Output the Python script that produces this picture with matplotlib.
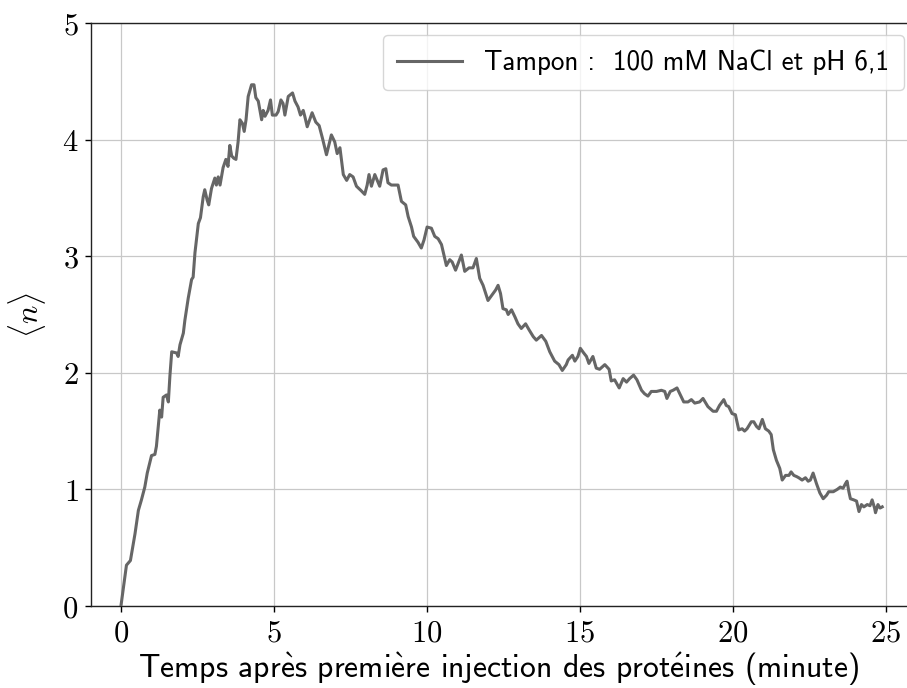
import numpy as np
import matplotlib
matplotlib.use("Agg")
import matplotlib.pyplot as plt

plt.rcParams['mathtext.fontset'] = 'cm'

# temps (minute) et nombre moyen <n>
temps = [0.0, 0.18, 0.31, 0.46, 0.57, 0.67, 0.78, 0.86, 1.0, 1.11, 1.16, 1.27, 1.33, 1.38, 1.49,
         1.55, 1.6, 1.66, 1.82, 1.87, 1.93, 2.04, 2.09, 2.2, 2.31, 2.36, 2.42, 2.53, 2.6, 2.69,
         2.74, 2.82, 2.87, 2.96, 3.07, 3.12, 3.18, 3.24, 3.34, 3.43, 3.5, 3.56, 3.62, 3.69, 3.76,
         3.83, 3.89, 3.97, 4.03, 4.09, 4.16, 4.27, 4.35, 4.41, 4.49, 4.6, 4.65, 4.71, 4.81, 4.89,
         4.95, 5.07, 5.14, 5.23, 5.3, 5.36, 5.47, 5.61, 5.69, 5.79, 5.87, 5.96, 6.01, 6.09, 6.25,
         6.37, 6.48, 6.59, 6.72, 6.88, 6.99, 7.07, 7.16, 7.27, 7.38, 7.48, 7.59, 7.7, 7.86, 7.97,
         8.05, 8.11, 8.19, 8.3, 8.46, 8.57, 8.66, 8.73, 8.84, 8.95, 9.06, 9.17, 9.31, 9.39, 9.5,
         9.57, 9.71, 9.82, 9.91, 10.01, 10.15, 10.26, 10.37, 10.48, 10.64, 10.75, 10.83, 10.94,
         11.13, 11.24, 11.38, 11.51, 11.62, 11.73, 11.84, 12.0, 12.14, 12.25, 12.33, 12.41, 12.49,
         12.6, 12.66, 12.77, 12.88, 12.98, 13.09, 13.23, 13.34, 13.48, 13.58, 13.75, 13.89, 14.02,
         14.18, 14.32, 14.43, 14.56, 14.62, 14.76, 14.84, 14.94, 15.02, 15.13, 15.22, 15.3, 15.43,
         15.54, 15.65, 15.82, 15.96, 16.03, 16.14, 16.29, 16.42, 16.53, 16.63, 16.76, 16.87, 17.02,
         17.12, 17.23, 17.34, 17.51, 17.67, 17.78, 17.85, 17.96, 18.05, 18.18, 18.29, 18.4, 18.54,
         18.65, 18.76, 18.92, 19.03, 19.19, 19.36, 19.47, 19.57, 19.71, 19.79, 19.87, 19.98, 20.09,
         20.2, 20.31, 20.39, 20.47, 20.61, 20.69, 20.78, 20.86, 20.97, 21.07, 21.18, 21.26, 21.33,
         21.43, 21.54, 21.62, 21.73, 21.84, 21.91, 22.0, 22.09, 22.16, 22.27, 22.38, 22.47, 22.54,
         22.63, 22.74, 22.85, 22.96, 23.07, 23.14, 23.29, 23.42, 23.52, 23.61, 23.69, 23.74, 23.8,
         23.85, 23.96, 24.05, 24.13, 24.21, 24.29, 24.4, 24.49, 24.56, 24.64, 24.67, 24.75, 24.82,
         24.89]
n_moyen = [0.0, 0.35, 0.39, 0.62, 0.82, 0.91, 1.02, 1.14, 1.29, 1.3, 1.37, 1.68, 1.62, 1.79, 1.81,
           1.75, 1.97, 2.18, 2.17, 2.14, 2.24, 2.34, 2.45, 2.64, 2.8, 2.82, 3.03, 3.28, 3.33, 3.51,
           3.57, 3.48, 3.44, 3.58, 3.67, 3.61, 3.68, 3.61, 3.76, 3.83, 3.77, 3.95, 3.86, 3.84, 3.83,
           3.98, 4.17, 4.14, 4.07, 4.17, 4.37, 4.47, 4.47, 4.36, 4.33, 4.17, 4.25, 4.2, 4.25, 4.34,
           4.21, 4.21, 4.24, 4.34, 4.31, 4.21, 4.37, 4.4, 4.33, 4.28, 4.21, 4.25, 4.2, 4.11, 4.23,
           4.15, 4.12, 4.01, 3.87, 4.04, 3.98, 3.88, 3.93, 3.7, 3.65, 3.7, 3.68, 3.6, 3.56, 3.53,
           3.61, 3.7, 3.6, 3.7, 3.6, 3.74, 3.75, 3.63, 3.61, 3.61, 3.61, 3.47, 3.44, 3.34, 3.25,
           3.17, 3.12, 3.07, 3.14, 3.25, 3.24, 3.17, 3.15, 3.1, 2.92, 2.97, 2.95, 2.88,
           3.01, 2.87, 2.9, 2.9, 2.98, 2.81, 2.75, 2.62, 2.67, 2.71, 2.75, 2.68, 2.55,
           2.54, 2.5, 2.54, 2.48, 2.42, 2.38, 2.42, 2.37, 2.31, 2.28, 2.32, 2.27, 2.18,
           2.1, 2.07, 2.02, 2.07, 2.11, 2.15, 2.1, 2.14, 2.21, 2.17, 2.14, 2.08, 2.14,
           2.04, 2.03, 2.07, 2.03, 1.93, 1.94, 1.87, 1.95, 1.92, 1.95, 1.98, 1.94, 1.85,
           1.82, 1.8, 1.84, 1.84, 1.85, 1.84, 1.78, 1.84, 1.85, 1.87, 1.81, 1.75, 1.75,
           1.77, 1.74, 1.75, 1.78, 1.71, 1.67, 1.67, 1.72, 1.77, 1.72, 1.71, 1.65, 1.64,
           1.51, 1.52, 1.5, 1.52, 1.58, 1.58, 1.54, 1.52, 1.6, 1.52, 1.5, 1.47, 1.34,
           1.25, 1.18, 1.08, 1.12, 1.12, 1.15, 1.12, 1.11, 1.1, 1.08, 1.1, 1.07, 1.08,
           1.14, 1.05, 0.97, 0.92, 0.95, 0.98, 0.98, 1.0, 1.02, 1.01, 1.05, 1.07, 0.98,
           0.92, 0.91, 0.9, 0.81, 0.87, 0.85, 0.87, 0.86, 0.91, 0.84, 0.8, 0.87, 0.84,
           0.85]

xticks = [0, 5, 10, 15, 20, 25]
yticks = [0, 1, 2, 3, 4, 5]
legende = 'Tampon :  100 mM NaCl et pH 6,1'
# lettres accentuées en mathtext (cmss10 n'a pas de glyphes accentués)
xlabel = (r'Temps apr$\mathsf{\grave{e}}$s premi$\mathsf{\grave{e}}$re injection '
          r'des prot$\mathsf{\acute{e}}$ines (minute)')
sans = ['cmss10', 'DejaVu Sans']

fig = plt.figure(figsize=(9.07, 6.88), dpi=100)
ax = fig.add_axes([0.1003, 0.1192, 0.8997, 0.8474])

ax.plot(temps, n_moyen, color='#666666', lw=2.2, label=legende, zorder=3)

ax.set_xlim(-0.98, 25.7)
ax.set_ylim(0, 5)
ax.set_xticks(xticks)
ax.set_xticklabels(['$%d$' % t for t in xticks], fontsize=22)
ax.set_yticks(yticks)
ax.set_yticklabels(['$%d$' % t for t in yticks], fontsize=22)
ax.tick_params(direction='out', length=4, width=1, color='black', pad=5)

ax.grid(True, color='#c8c8c8', lw=0.9)
ax.set_axisbelow(True)
for s in ['left', 'bottom', 'top']:
    ax.spines[s].set_color('#222222')
    ax.spines[s].set_linewidth(1.0)
ax.spines['right'].set_visible(False)

ax.set_xlabel(xlabel, family=sans, fontsize=22.8, labelpad=2)
ax.set_ylabel(r'$\langle n \rangle$', fontsize=22, labelpad=10)

leg = ax.legend(loc='upper right', bbox_to_anchor=(0.9963, 0.9794),
                prop={'family': sans, 'size': 19.5},
                handlelength=2.4, fancybox=True, framealpha=0.8,
                edgecolor='#cccccc', borderpad=0.55, borderaxespad=0.0)

fig.savefig('out.png', dpi=100)
